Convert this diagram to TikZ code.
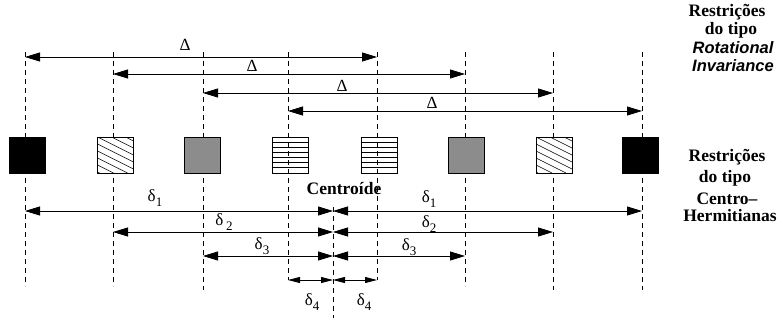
\documentclass[tikz,border=0pt]{standalone}
\usepackage{fontspec}
\setmainfont{Liberation Serif}
\setsansfont{Liberation Sans}
\usetikzlibrary{arrows.meta}
\newcommand{\dsub}[1]{δ\raisebox{-4.5pt}{\fontsize{13}{13}\selectfont #1}}
\begin{document}
\begin{tikzpicture}[x=1pt,y=-1pt,
  dim/.style={line width=0.8pt, {Triangle[length=15pt,width=9pt]}-{Triangle[length=15pt,width=9pt]}},
  dimsmall/.style={line width=0.8pt, {Triangle[length=12pt,width=6pt]}-{Triangle[length=12pt,width=6pt]}},
  guide/.style={line width=0.8pt, dash pattern=on 5pt off 4pt},
  sq/.style={draw, line width=1pt, minimum size=36pt, inner sep=0pt},
  solidsq/.style={sq, fill=black},
  graysq/.style={sq, fill=black!45},
  hatchsq/.style={sq, fill=white, path picture={
      \foreach \k in {-70,-56,...,40}
        \draw[line width=0.6pt] ([xshift=\k pt]path picture bounding box.north west) -- ++(72,36);}},
  stripesq/.style={sq, path picture={
      \foreach \k in {1,...,6}
        \draw[line width=0.8pt] ([yshift=-\k*36/7 pt]path picture bounding box.north west) -- ++(36,0);}},
  lbl/.style={font=\fontsize{17}{17}\selectfont, inner sep=0pt},
  side/.style={font=\fontsize{17.5}{17.5}\selectfont\bfseries, inner sep=0pt},
  sideit/.style={font=\fontsize{16.5}{16.5}\selectfont\sffamily\bfseries\itshape, inner sep=0pt},
]
\useasboundingbox (0,0) rectangle (783,322);

% guide line end points
\coordinate (g1t) at (25,52);  \coordinate (g1b) at (25,286);
\coordinate (g2t) at (113,52); \coordinate (g2b) at (113,286);
\coordinate (g3t) at (203,52); \coordinate (g3b) at (203,290);
\coordinate (g4t) at (288,52); \coordinate (g4b) at (288,280);
\coordinate (g5t) at (377,52); \coordinate (g5b) at (377,280);
\coordinate (g6t) at (465,52); \coordinate (g6b) at (465,286);
\coordinate (g7t) at (553,52); \coordinate (g7b) at (553,290);
\coordinate (g8t) at (642,52); \coordinate (g8b) at (642,290);
\coordinate (gct) at (333,207); \coordinate (gcb) at (333,318);

\draw[guide] (g1t) -- (g1b);
\draw[guide] (g2t) -- (g2b);
\draw[guide] (g3t) -- (g3b);
\draw[guide] (g4t) -- (g4b);
\draw[guide] (g5t) -- (g5b);
\draw[guide] (g6t) -- (g6b);
\draw[guide] (g7t) -- (g7b);
\draw[guide] (g8t) -- (g8b);
\draw[guide] (gct) -- (gcb);

% squares
\node[solidsq]  (s1) at (27.5,155) {};
\node[hatchsq]  (s2) at (115.5,155) {};
\node[graysq]   (s3) at (202.5,155) {};
\node[stripesq] (s4) at (290,155) {};
\node[stripesq] (s5) at (379,155) {};
\node[graysq]   (s6) at (466.5,155) {};
\node[hatchsq]  (s7) at (554,155) {};
\node[solidsq]  (s8) at (640.5,155) {};

% Delta arrows (top)
\coordinate (D1a) at (25,57);  \coordinate (D1b) at (377,57);
\coordinate (D2a) at (113,74); \coordinate (D2b) at (465,74);
\coordinate (D3a) at (203,93); \coordinate (D3b) at (553,93);
\coordinate (D4a) at (288,111); \coordinate (D4b) at (642,111);
\draw[dim] (D1a) -- (D1b);
\draw[dim] (D2a) -- (D2b);
\draw[dim] (D3a) -- (D3b);
\draw[dim] (D4a) -- (D4b);
\node[lbl] (L1) at (185,45) {Δ};
\node[lbl] (L2) at (252,66) {Δ};
\node[lbl] (L3) at (342,86) {Δ};
\node[lbl] (L4) at (432,103) {Δ};

% delta arrows (bottom)
\coordinate (c1) at (333,211); \coordinate (l1) at (25,211);  \coordinate (r1) at (642,211);
\coordinate (c2) at (333,232); \coordinate (l2) at (113,232); \coordinate (r2) at (553,232);
\coordinate (c3) at (333,256); \coordinate (l3) at (203,256); \coordinate (r3) at (465,256);
\coordinate (c4) at (333,280); \coordinate (l4) at (288,280); \coordinate (r4) at (377,280);
\draw[dim] (c1) -- (l1); \draw[dim] (c1) -- (r1);
\draw[dim] (c2) -- (l2); \draw[dim] (c2) -- (r2);
\draw[dim] (c3) -- (l3); \draw[dim] (c3) -- (r3);
\draw[dimsmall] (c4) -- (l4); \draw[dimsmall] (c4) -- (r4);

\node[lbl] (d1l) at (155,198) {\dsub{1}};
\node[lbl] (d1r) at (429,199) {\dsub{1}};
\node[lbl] (d2l) at (224,222) {δ\,\raisebox{-4.5pt}{\fontsize{13}{13}\selectfont 2}};
\node[lbl] (d2r) at (429,224) {\dsub{2}};
\node[lbl] (d3l) at (262,246) {\dsub{3}};
\node[lbl] (d3r) at (409,247) {\dsub{3}};
\node[lbl] (d4l) at (312,302) {\dsub{4}};
\node[lbl] (d4r) at (364,302) {\dsub{4}};

\node[side] (cent) at (344,188) {Centroíde};

% side texts
\node[side]   (t1) at (727,12) {Restrições};
\node[side]   (t2) at (731,30) {do tipo};
\node[sideit] (t3) at (733,48) {Rotational};
\node[sideit] (t4) at (733,66) {Invariance};

\node[side] (b1) at (727,157) {Restrições};
\node[side] (b2) at (725,178) {do tipo};
\node[side] (b3) at (727,199) {Centro–};
\node[side] (b4) at (730,216) {Hermitianas};
\end{tikzpicture}
\end{document}
